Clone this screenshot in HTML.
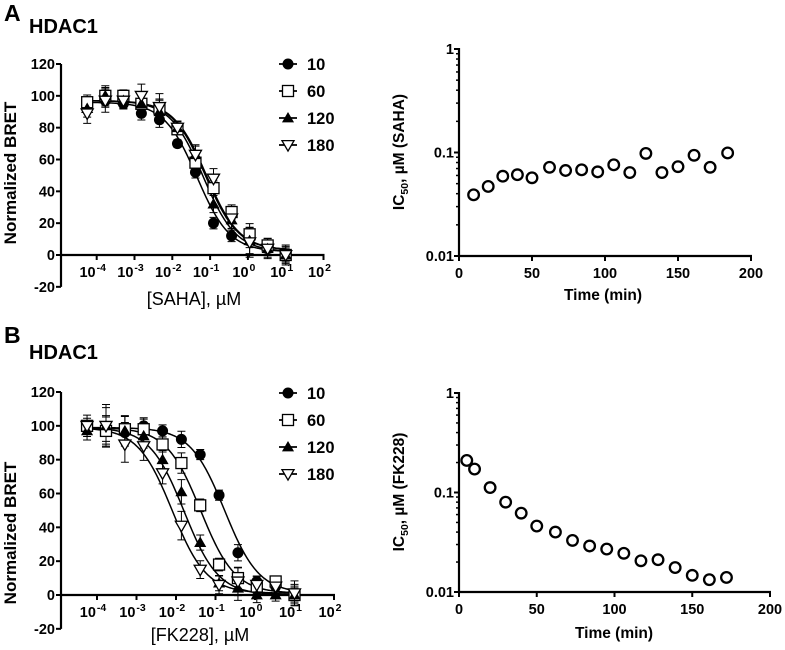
<!DOCTYPE html>
<html><head><meta charset="utf-8"><style>
html,body{margin:0;padding:0;background:#fff;}
svg{display:block;font-family:"Liberation Sans",Arial,sans-serif;}
.b{font-weight:bold;}
</style></head><body>
<svg id="fig" width="785" height="650" viewBox="0 0 785 650">
<text x="4" y="21" class="b" font-size="23">A</text>
<text x="29" y="33" class="b" font-size="20">HDAC1</text>
<text x="4" y="343" class="b" font-size="23">B</text>
<text x="29" y="359" class="b" font-size="20">HDAC1</text>
</svg>
<script>
// ---- data ----
const conc = [5.6e-5,1.69e-4,5.08e-4,1.52e-3,4.57e-3,1.37e-2,4.1e-2,0.123,0.37,1.11,3.33,10];
const seriesNames = ['10','60','120','180'];
// SAHA
const sahaV10  = [93,97,95,89,85,70,52,20,12,10,4,0];
const sahaV60  = [96,100,100,95,92,79,58,42,27,13,6,0];
const sahaV120 = [92,100,97,95,90,80,63,32,22,9,4,0];
const sahaV180 = [89,97,97,100,93,80,63,48,23,8,4,0];
const sahaErr  = [6,7,5,7,8,4,6,6,6,9,6,6];
const sahaIC50 = [0.045,0.075,0.065,0.08];
const sahaTop = [96,97,97,97];
const sahaBottom = [2,3,2,3];
// FK228
const fkV10  = [99,98,96,100,97,92,83,59,25,8,5,0];
const fkV60  = [100,97,98,98,89,78,53,18,10,5,8,0];
const fkV120 = [97,100,97,94,80,61,31,7,4,0,0,0];
const fkV180 = [100,100,89,88,72,41,15,6,8,6,5,1];
const fkErr  = [6,12,10,8,6,8,5,5,8,5,4,7];
const fkIC50 = [0.17,0.042,0.016,0.008];
const fkTop = [99,99,99,99];
const fkBottom = [1,1,0,1];
// IC50 vs time
const sahaTime = [10,20,30,40,50,62,73,84,95,106,117,128,139,150,161,172,184];
const sahaIC = [0.039,0.047,0.059,0.061,0.057,0.072,0.067,0.068,0.065,0.076,0.064,0.098,0.064,0.073,0.094,0.072,0.099];
const fkTime = [5,10,20,30,40,50,62,73,84,95,106,117,128,139,150,161,172];
const fkIC = [0.21,0.172,0.112,0.080,0.062,0.046,0.040,0.033,0.029,0.027,0.0245,0.0206,0.0211,0.0176,0.0147,0.0133,0.014];
const xTickExp = [-4,-3,-2,-1,0,1,2];
const yTicksLin = [-20,0,20,40,60,80,100,120];
const timeTicks = [0,50,100,150,200];
const icTicks = [0.01,0.1,1];
const icTickLabels = ['0.01','0.1','1'];

const NS='http://www.w3.org/2000/svg';
const svg=document.getElementById('fig');
function el(tag,attrs,parent){const e=document.createElementNS(NS,tag);for(const k in attrs)e.setAttribute(k,attrs[k]);(parent||svg).appendChild(e);return e;}

function marker(g,type,cx,cy,r){
  let m;
  if(type===0){m=el('circle',{cx:cx,cy:cy,r:r,fill:'#000'},g);}
  else if(type===1){m=el('rect',{x:cx-r,y:cy-r,width:2*r,height:2*r,fill:'#fff',stroke:'#000','stroke-width':1.3},g);}
  else if(type===2){m=el('polygon',{points:`${cx},${cy-r*1.1} ${cx-r*1.1},${cy+r*0.8} ${cx+r*1.1},${cy+r*0.8}`,fill:'#000'},g);}
  else {m=el('polygon',{points:`${cx},${cy+r*1.1} ${cx-r*1.1},${cy-r*0.8} ${cx+r*1.1},${cy-r*0.8}`,fill:'#fff',stroke:'#000','stroke-width':1.3},g);}
  return m;
}

function doseChart(cfg){
  const g=el('g',{});
  
  
  const X=c=>cfg.x4+(Math.log10(c)+4)*cfg.dec;
  const Y=v=>cfg.y0-v*cfg.py;
  const ya=el('line',{x1:cfg.ax,y1:Y(120),x2:cfg.ax,y2:Y(-20),stroke:'#000','stroke-width':2.2},g);
  
  const xa=el('line',{x1:cfg.ax,y1:Y(0),x2:X(100)+1,y2:Y(0),stroke:'#000','stroke-width':2.2},g);
  
  yTicksLin.forEach(v=>{
    el('line',{x1:cfg.ax-5,y1:Y(v),x2:cfg.ax,y2:Y(v),stroke:'#000','stroke-width':2},g);
    const t=el('text',{x:cfg.ax-6,y:Y(v)+5,'text-anchor':'end','font-size':14.5,class:'b'},g);
    t.textContent=v;
    
  });
  xTickExp.forEach(e=>{
    const x=X(Math.pow(10,e));
    el('line',{x1:x,y1:Y(0),x2:x,y2:Y(0)+5,stroke:'#000','stroke-width':2},g);
    const t=el('text',{x:x-4,y:Y(0)+22,'text-anchor':'middle','font-size':14.5,class:'b'},g);
    
    const a=el('tspan',{},t);a.textContent='10';
    const s=el('tspan',{dy:-6,'font-size':10.5,dx:1},t);s.textContent=e<0?'-'+(-e):String(e);
  });
  const yl=el('text',{x:0,y:0,transform:`translate(${cfg.ylx},${cfg.yly}) rotate(-90)`,'text-anchor':'middle','font-size':17,class:'b'},g);
  yl.textContent='Normalized BRET';
  
  const xl=el('text',{x:cfg.xlx,y:cfg.xly,'text-anchor':'middle','font-size':18},g);
  xl.textContent=cfg.xlabel;
  
  cfg.vals.forEach((vals,i)=>{
    let d='';
    for(let k=0;k<=200;k++){
      const lc=Math.log10(conc[0])+(Math.log10(conc[11])-Math.log10(conc[0]))*k/200;
      const c=Math.pow(10,lc);
      const v=cfg.bottom[i]+(cfg.top[i]-cfg.bottom[i])/(1+c/cfg.ic50[i]);
      d+=(k?'L':'M')+X(c).toFixed(2)+','+Y(v).toFixed(2);
    }
    const p=el('path',{d:d,fill:'none',stroke:'#000','stroke-width':1.5},g);
    
  });
  cfg.vals.forEach((vals,i)=>{
    vals.forEach((v,j)=>{
      const x=X(conc[j]);const e=cfg.err[j]*(0.6+0.15*i);
      const eb=el('path',{d:`M${x},${Y(v+e)}V${Y(v-e)}M${x-4},${Y(v+e)}H${x+4}M${x-4},${Y(v-e)}H${x+4}`,stroke:'#000','stroke-width':1,fill:'none'},g);
      
    });
  });
  cfg.vals.forEach((vals,i)=>{
    vals.forEach((v,j)=>{
      const m=marker(g,i,cfg.x4+(Math.log10(conc[j])+4)*cfg.dec,Y(v),5.5);
      
    });
  });
  seriesNames.forEach((n,i)=>{
    const y=cfg.legY+i*27;
    const lg=el('g',{},g);
    
    el('line',{x1:279,y1:y,x2:297,y2:y,stroke:'#000','stroke-width':1.8},lg);
    marker(lg,i,288,y,5.5);
    const t=el('text',{x:307,y:y+6,'font-size':16.5,class:'b'},lg);t.textContent=n;
  });
}

function icChart(cfg){
  const g=el('g',{});
  
  
  const X=t=>cfg.ax+t*cfg.pm;
  const Y=v=>cfg.y1-(Math.log10(v)+2)*cfg.pd;
  const ya=el('line',{x1:cfg.ax,y1:Y(1)-1,x2:cfg.ax,y2:Y(0.01),stroke:'#000','stroke-width':2.2},g);
  
  const xa=el('line',{x1:cfg.ax-1,y1:Y(0.01),x2:X(200)+1,y2:Y(0.01),stroke:'#000','stroke-width':2.2},g);
  
  for(let d=-2;d<0;d++)for(let m=2;m<=9;m++){
    const y=Y(m*Math.pow(10,d));
    el('line',{x1:cfg.ax-3,y1:y,x2:cfg.ax,y2:y,stroke:'#000','stroke-width':1.5},g);
  }
  icTicks.forEach((v,i)=>{
    el('line',{x1:cfg.ax-5,y1:Y(v),x2:cfg.ax,y2:Y(v),stroke:'#000','stroke-width':2},g);
    const t=el('text',{x:cfg.ax-5,y:Y(v)+5,'text-anchor':'end','font-size':14.5,class:'b'},g);
    t.textContent=icTickLabels[i];
    
  });
  timeTicks.forEach(v=>{
    el('line',{x1:X(v),y1:Y(0.01),x2:X(v),y2:Y(0.01)+5,stroke:'#000','stroke-width':2},g);
    const t=el('text',{x:X(v),y:Y(0.01)+22,'text-anchor':'middle','font-size':14.5,class:'b'},g);
    t.textContent=v;
    
  });
  const xl=el('text',{x:cfg.xlx,y:cfg.xly,'text-anchor':'middle','font-size':15.5,class:'b'},g);
  xl.textContent='Time (min)';
  
  const yl=el('text',{x:0,y:0,transform:`translate(${cfg.ylx},${cfg.yly}) rotate(-90)`,'text-anchor':'middle','font-size':15.5,class:'b'},g);
  
  const a=el('tspan',{},yl);a.textContent='IC';
  const b=el('tspan',{dy:4,'font-size':10.5},yl);b.textContent='50';
  const c=el('tspan',{dy:-4},yl);c.textContent=', \u00B5M ('+cfg.drug+')';
  cfg.t.forEach((tv,i)=>{
    const p=el('circle',{cx:X(tv),cy:Y(cfg.v[i]),r:5.3,fill:'#fff',stroke:'#000','stroke-width':2.3},g);
    
  });
}

doseChart({name:'saha-dose-response',x4:96.7,dec:37.8,y0:255,py:191/120,ax:61,vals:[sahaV10,sahaV60,sahaV120,sahaV180],err:sahaErr,ic50:sahaIC50,top:sahaTop,bottom:sahaBottom,xlabel:'[SAHA], \u00B5M',xlx:194,xly:305,ylx:16,yly:173,legY:64});
doseChart({name:'fk228-dose-response',x4:97,dec:39.5,y0:595,py:203/120,ax:61,vals:[fkV10,fkV60,fkV120,fkV180],err:fkErr,ic50:fkIC50,top:fkTop,bottom:fkBottom,xlabel:'[FK228], \u00B5M',xlx:200,xly:641,ylx:16,yly:533,legY:393});
icChart({name:'saha-ic50-time',ax:459,pm:292/200,y1:256,pd:103.5,t:sahaTime,v:sahaIC,drug:'SAHA',xlx:603,xly:300,ylx:404,yly:152});
icChart({name:'fk228-ic50-time',ax:459,pm:311/200,y1:592,pd:99.5,t:fkTime,v:fkIC,drug:'FK228',xlx:614,xly:638,ylx:404,yly:492});
</script>
</body></html>
